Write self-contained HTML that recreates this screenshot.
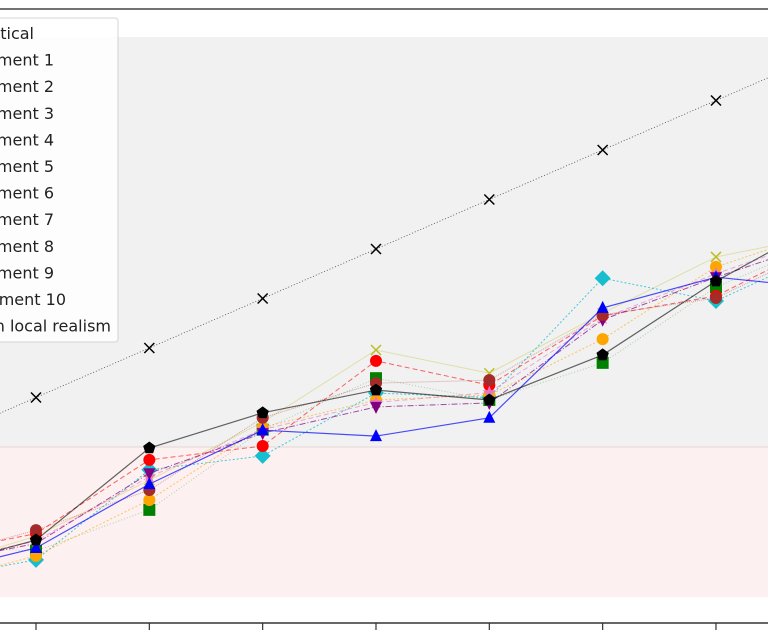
<!DOCTYPE html>
<html><head><meta charset="utf-8">
<style>
html,body{margin:0;padding:0;background:#fff;}
svg{display:block;font-family:"DejaVu Sans","Liberation Sans",sans-serif;}
</style></head>
<body>
<svg id="chart" width="768" height="635" viewBox="0 0 768 635" xmlns="http://www.w3.org/2000/svg">
  <rect x="0" y="37" width="768" height="410" fill="#f1f1f1"/>
  <rect x="0" y="447" width="768" height="150" fill="#fdf0f0"/>
  <line x1="0" y1="447" x2="768" y2="447" stroke="#e6d6d6" stroke-width="1"/>
  <line x1="0" y1="9" x2="768" y2="9" stroke="#444" stroke-width="1.5"/>
  <line x1="0" y1="623" x2="768" y2="623" stroke="#333" stroke-width="1.5"/>
  <g id="ticks"></g>
  <g id="series"></g>
  <g id="legend">
    <rect x="-10" y="18" width="128" height="324" rx="3" fill="#fff" fill-opacity="0.85" stroke="#d4d4d4"/>
  </g>
</svg>
<script>
const steps = [0,1,2,3,4,5,6,7,8];
const theoretical = [0,10,20,30,40,50,60,70,80];
const exp1 = [-26,-20.4,-7.5,3.4,2.2,5.9,28.1,34.3,32];
const exp2 = [-20,-21,-12.7,3.5,13.9,9.5,17.0,32.3,42];
const exp3 = [-22,-17.5,-2.6,0.2,17.4,12.5,26.5,30.5,42];
const exp4 = [-27,-22.8,-4.6,-1.8,10.9,10.0,34.1,29.5,40];
const exp5 = [-24,-19.5,-5.3,2.8,8.1,8.9,25.7,34.3,42];
const exp6 = [-25,-18,-6.7,5,19.6,14.9,27,38.4,43];
const exp7 = [-25,-18.8,-0.2,6.9,11.5,9.5,18.6,33.5,46];
const exp8 = [-28,-22,-10.7,4.0,9.5,10.5,21.8,36.4,44];
const exp9 = [-23,-16.8,-8.7,5.9,12.9,13.5,26.7,30.1,41];
const exp10 = [-24,-19,-6,3.5,9,11,26,35,43];
const legendLabels = ["Theoretical","Experiment 1","Experiment 2","Experiment 3","Experiment 4","Experiment 5","Experiment 6","Experiment 7","Experiment 8","Experiment 9","Experiment 10","Non local realism"];

const NS="http://www.w3.org/2000/svg";
function xS(i){return 36+113.33*(i-1);}
function yS(v){return 447-4.95*v;}
function mk(tag,attrs,parent){const e=document.createElementNS(NS,tag);for(const k in attrs)e.setAttribute(k,attrs[k]);parent.appendChild(e);return e;}

const ticks=document.getElementById('ticks');
steps.forEach(i=>{
  const t=mk('line',{x1:xS(i),x2:xS(i),y1:623,y2:630,stroke:'#333','stroke-width':1.2},ticks);
  
  
});

const styles=[
 {d:theoretical,c:'#000',dash:'1,2',w:0.8,op:0.7,m:'x',name:'theoretical'},
 {d:exp2,c:'green',dash:'1,2',w:1,op:0.3,m:'s',name:'experiment-2'},
 {d:exp6,c:'#bcbd22',dash:'',w:1,op:0.35,m:'x',name:'experiment-6'},
 {d:exp4,c:'#17becf',dash:'2,2',w:1,op:0.8,m:'D',name:'experiment-4'},
 {d:exp8,c:'orange',dash:'2,2',w:1,op:0.6,m:'o',name:'experiment-8'},
 {d:exp3,c:'red',dash:'5,3',w:1,op:0.6,m:'o',name:'experiment-3'},
 {d:exp10,c:'#e377c2',dash:'5,3',w:1,op:0.6,m:'*',name:'experiment-10'},
 {d:exp5,c:'purple',dash:'6,2,1,2',w:1,op:0.7,m:'v',name:'experiment-5'},
 {d:exp9,c:'brown',dash:'1,1',w:1,op:0.4,m:'o',name:'experiment-9'},
 {d:exp1,c:'blue',dash:'',w:1.2,op:0.7,m:'^',name:'experiment-1'},
 {d:exp7,c:'#000',dash:'',w:1.2,op:0.6,m:'p',name:'experiment-7'}
];
const sg=document.getElementById('series');
function marker(m,x,y,c,g){
  let e;
  if(m==='x'){e=mk('path',{d:`M${x-5},${y-5}L${x+5},${y+5}M${x-5},${y+5}L${x+5},${y-5}`,stroke:c,'stroke-width':1.5,fill:'none'},g);}
  else if(m==='s'){e=mk('rect',{x:x-6,y:y-6,width:12,height:12,fill:c},g);}
  else if(m==='D'){e=mk('path',{d:`M${x},${y-8}L${x+8},${y}L${x},${y+8}L${x-8},${y}Z`,fill:c},g);}
  else if(m==='^'){e=mk('path',{d:`M${x},${y-7}L${x+6},${y+5}L${x-6},${y+5}Z`,fill:c},g);}
  else if(m==='v'){e=mk('path',{d:`M${x},${y+7}L${x+6},${y-5}L${x-6},${y-5}Z`,fill:c},g);}
  else if(m==='*'){let p='';for(let k=0;k<10;k++){const r=k%2?3:7,a=-Math.PI/2+k*Math.PI/5;p+=(k?'L':'M')+(x+r*Math.cos(a))+','+(y+r*Math.sin(a));}e=mk('path',{d:p+'Z',fill:c},g);}
  else if(m==='p'){let p='';for(let k=0;k<5;k++){const a=-Math.PI/2+k*2*Math.PI/5;p+=(k?'L':'M')+(x+6.5*Math.cos(a))+','+(y+6.5*Math.sin(a));}e=mk('path',{d:p+'Z',fill:c},g);}
  else {e=mk('circle',{cx:x,cy:y,r:6,fill:c},g);}
  
  
}
styles.forEach(s=>{
  const g=mk('g',{},sg);
  
  
  const pts=steps.map(i=>xS(i)+','+yS(s.d[i])).join(' ');
  const l=mk('polyline',{points:pts,fill:'none',stroke:s.c,'stroke-width':s.w,'stroke-opacity':s.op,'stroke-dasharray':s.dash},g);
  
  
  steps.forEach(i=>{ if(i>=1&&i<=7) marker(s.m,xS(i),yS(s.d[i]),s.c,g); });
});

const lg=document.getElementById('legend');
const ends=[34,54,54,54,54,54,54,54,54,54,66,111];
legendLabels.forEach((t,k)=>{
  const e=mk('text',{x:ends[k],y:39+26.6*k,'text-anchor':'end','font-size':16,fill:'#222'},lg);
  e.textContent=t;
  
  
});
</script>
</body></html>
